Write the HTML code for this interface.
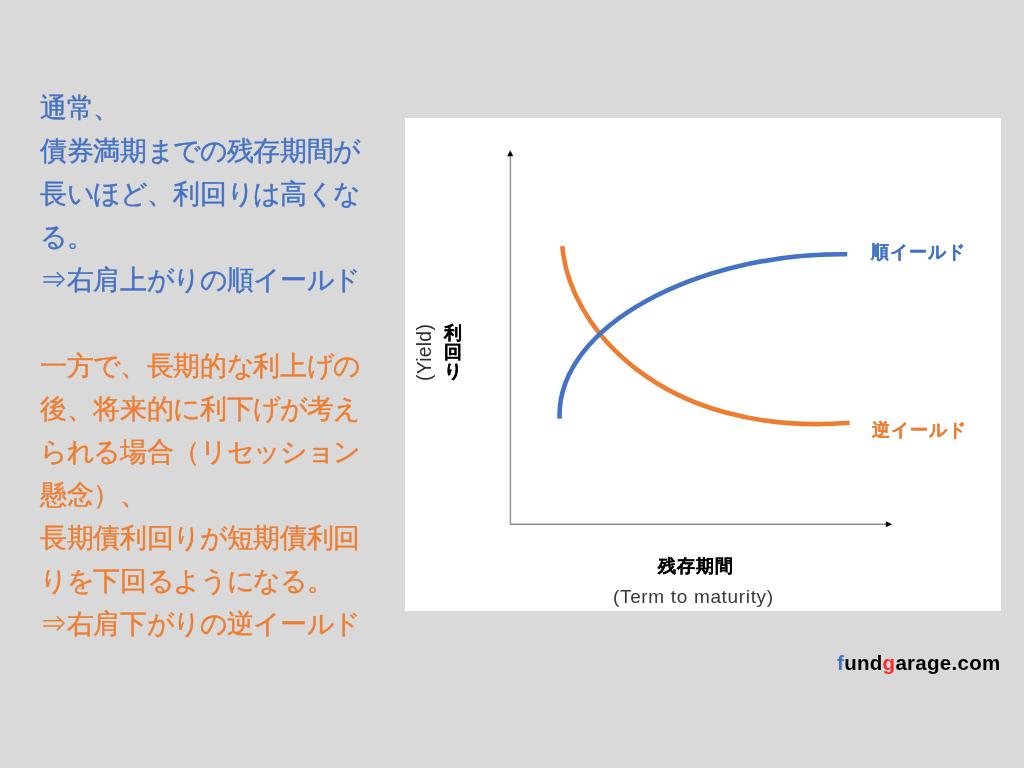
<!DOCTYPE html>
<html lang="ja">
<head>
<meta charset="utf-8">
<style>
html,body{margin:0;padding:0;}
body{width:1024px;height:768px;background:#d9d9d9;position:relative;overflow:hidden;font-family:"Liberation Sans",sans-serif;}
.l{position:absolute;left:40px;font-size:26.67px;line-height:30px;white-space:nowrap;}
.b{color:#4472c4;}
.o{color:#ed7d31;}
.chart{position:absolute;left:405px;top:118px;width:596px;height:493px;background:#fff;}
.t{position:absolute;white-space:nowrap;line-height:20px;will-change:transform;}
.l{will-change:transform;-webkit-text-stroke:0.4px currentColor;}
.bd{font-weight:bold;-webkit-text-stroke:0.15px currentColor;}
</style>
</head>
<body>
<div class="l b" style="top:92.70px"><span style="letter-spacing:-0.330px">通常、</span></div>
<div class="l b" style="top:135.70px"><span style="letter-spacing:-0.330px">債券満期</span><span style="letter-spacing:-1.330px">までの</span><span style="letter-spacing:-0.330px">残存期間</span><span style="letter-spacing:-1.330px">が</span></div>
<div class="l b" style="top:178.70px"><span style="letter-spacing:-0.330px">長</span><span style="letter-spacing:-1.330px">いほど</span><span style="letter-spacing:-0.330px">、利回</span><span style="letter-spacing:-1.330px">りは</span><span style="letter-spacing:-0.330px">高</span><span style="letter-spacing:-1.330px">くな</span></div>
<div class="l b" style="top:221.70px"><span style="letter-spacing:-1.330px">る</span><span style="letter-spacing:-0.330px">。</span></div>
<div class="l b" style="top:264.70px"><span style="letter-spacing:-0.330px">⇒右肩上</span><span style="letter-spacing:-1.330px">がりの</span><span style="letter-spacing:-0.330px">順</span><span style="letter-spacing:-1.330px">イ</span><span style="letter-spacing:-0.330px">ー</span><span style="letter-spacing:-1.330px">ルド</span></div>
<div class="l o" style="top:350.70px"><span style="letter-spacing:-0.330px">一方</span><span style="letter-spacing:-1.330px">で</span><span style="letter-spacing:-0.330px">、長期的</span><span style="letter-spacing:-1.330px">な</span><span style="letter-spacing:-0.330px">利上</span><span style="letter-spacing:-1.330px">げの</span></div>
<div class="l o" style="top:393.70px"><span style="letter-spacing:-0.330px">後、将来的</span><span style="letter-spacing:-1.330px">に</span><span style="letter-spacing:-0.330px">利下</span><span style="letter-spacing:-1.330px">げが</span><span style="letter-spacing:-0.330px">考</span><span style="letter-spacing:-1.330px">え</span></div>
<div class="l o" style="top:436.70px"><span style="letter-spacing:-1.330px">られる</span><span style="letter-spacing:-0.330px">場合（</span><span style="letter-spacing:-1.330px">リセッション</span></div>
<div class="l o" style="top:479.70px"><span style="letter-spacing:-0.330px">懸念）、</span></div>
<div class="l o" style="top:522.70px"><span style="letter-spacing:-0.330px">長期債利回</span><span style="letter-spacing:-1.330px">りが</span><span style="letter-spacing:-0.330px">短期債利回</span></div>
<div class="l o" style="top:565.70px"><span style="letter-spacing:-1.330px">りを</span><span style="letter-spacing:-0.330px">下回</span><span style="letter-spacing:-1.330px">るようになる</span><span style="letter-spacing:-0.330px">。</span></div>
<div class="l o" style="top:608.70px"><span style="letter-spacing:-0.330px">⇒右肩下</span><span style="letter-spacing:-1.330px">がりの</span><span style="letter-spacing:-0.330px">逆</span><span style="letter-spacing:-1.330px">イ</span><span style="letter-spacing:-0.330px">ー</span><span style="letter-spacing:-1.330px">ルド</span></div>

<div class="chart"></div>
<svg width="1024" height="768" style="position:absolute;left:0;top:0">
  <rect x="509" y="155" width="1" height="369" fill="#d4d4d4"/>
  <rect x="511" y="155" width="1" height="368" fill="#eeeeee"/>
  <rect x="510" y="155" width="1" height="370" fill="#999"/>
  <rect x="511" y="523" width="375" height="1" fill="#c8c8c8"/>
  <rect x="510" y="524" width="376" height="1" fill="#888"/>
  <path d="M510.2,150.3 L513.3,156.2 L507.1,156.2 Z" fill="#000"/>
  <path d="M892.3,524.2 L885.8,521.2 L885.8,527.2 Z" fill="#000"/>
  <path d="M562.4,246.1 C567.8,323.8 658.3,437.5 849.7,422.8" fill="none" stroke="#ed7d31" stroke-width="4.6"/>
  <path d="M559.6,418.7 C555.9,325.4 699.5,252.2 847.2,254.3" fill="none" stroke="#4472c4" stroke-width="4.6"/>
</svg>
<div class="t bd" style="left:870.5px;top:242.2px;font-size:18px;color:#4472c4"><span style="letter-spacing:0.900px">順</span><span style="letter-spacing:0.900px">イ</span><span style="letter-spacing:0.900px">ー</span><span style="letter-spacing:0.900px">ルド</span></div>
<div class="t bd" style="left:871.6px;top:420.4px;font-size:18px;color:#ed7d31"><span style="letter-spacing:0.900px">逆</span><span style="letter-spacing:0.900px">イ</span><span style="letter-spacing:0.900px">ー</span><span style="letter-spacing:0.900px">ルド</span></div>
<div class="t bd" style="left:443.5px;top:323.5px;font-size:18px;line-height:19.1px;width:18px;white-space:normal;text-align:center;color:#000">利<br>回<br>り</div>
<div class="t" style="left:414.5px;top:380.5px;font-size:19.3px;letter-spacing:0.3px;color:#2a2a2a;transform-origin:0 0;transform:rotate(-90deg)">(Yield)</div>
<div class="t bd" style="left:658px;top:555.6px;font-size:18px;color:#000"><span style="letter-spacing:1.100px">残存期間</span></div>
<div class="t" style="left:613px;top:586.6px;font-size:19px;letter-spacing:0.66px;color:#383838">(Term to maturity)</div>
<div class="t bd" style="left:836.5px;top:652.6px;font-size:20.5px;letter-spacing:0.29px;color:#000;-webkit-text-stroke:0"><span style="color:#4472c4">f</span>und<span style="color:#ff2b2b">g</span>arage.com</div>
</body>
</html>
